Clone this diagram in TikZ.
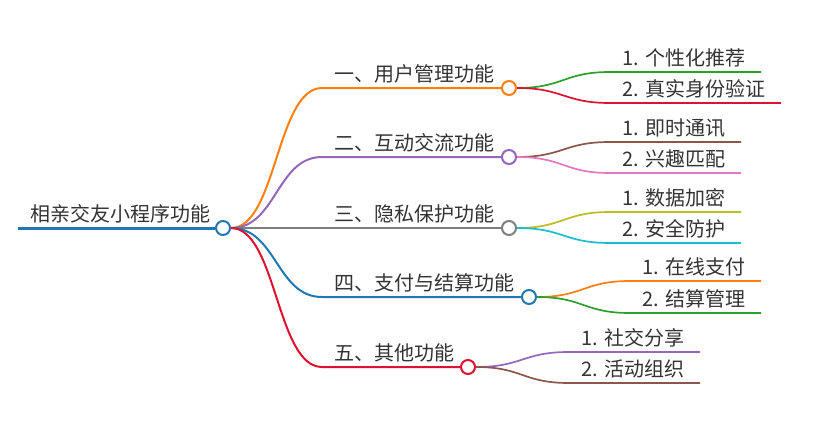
\documentclass[tikz,border=0pt]{standalone}
\usepackage{fontspec}
\setmainfont{Noto Sans CJK SC}
\usetikzlibrary{calc}

\definecolor{textgray}{HTML}{333333}
\definecolor{cblue}{HTML}{1F77B4}
\definecolor{corange}{HTML}{FF7F0E}
\definecolor{cgreen}{HTML}{2CA02C}
\definecolor{cred}{HTML}{E0112F}
\definecolor{cpurple}{HTML}{9467BD}
\definecolor{cbrown}{HTML}{8C564B}
\definecolor{cpink}{HTML}{E377C2}
\definecolor{cgray}{HTML}{7F7F7F}
\definecolor{colive}{HTML}{BCBD22}
\definecolor{ccyan}{HTML}{17BECF}

\tikzset{
  branch/.style={to path={let \p1=(\tikztostart), \p2=(\tikztotarget) in
    .. controls ({(\x1+\x2)/2},\y1) and ({(\x1+\x2)/2},\y2) .. (\tikztotarget)}},
  topic/.style={anchor=south west, inner xsep=12.5pt, inner ysep=6.5pt,
    text depth=0pt, text=textgray, font=\fontsize{20}{24}\selectfont},
  dot/.style={circle, fill=white, line width=2pt, minimum size=14pt, inner sep=0pt},
  mainline/.style={line width=2pt},
  leafline/.style={line width=1.7pt}
}

\begin{document}
\begin{tikzpicture}[x=1pt, y=-1pt]
    \useasboundingbox (0,0) rectangle (829,434);

    % Root topic
    \node[topic] (root) at (18,228) {相亲交友小程序功能};
    \node[dot, draw=cblue] (rc) at (223,228) {};
    \draw[cblue, line width=3pt] (root.south west) -- (rc.west);

    % Main topics
    \node[topic] (t1) at (322,88) {一、用户管理功能};
    \node[dot, draw=corange] (c1) at (509,88) {};
    \node[topic] (t2) at (322,157) {二、互动交流功能};
    \node[dot, draw=cpurple] (c2) at (509,157) {};
    \node[topic] (t3) at (322,228) {三、隐私保护功能};
    \node[dot, draw=cgray] (c3) at (509,228) {};
    \node[topic] (t4) at (322,297) {四、支付与结算功能};
    \node[dot, draw=cblue] (c4) at (529,297) {};
    \node[topic] (t5) at (322,367) {五、其他功能};
    \node[dot, draw=cred] (c5) at (468,367) {};

    \draw[corange, mainline] (rc.east) to[branch] (t1.south west) -- (c1.west);
    \draw[cpurple, mainline] (rc.east) to[branch] (t2.south west) -- (c2.west);
    \draw[cgray, mainline] (rc.east) to[branch] (t3.south west) -- (c3.west);
    \draw[cblue, mainline] (rc.east) to[branch] (t4.south west) -- (c4.west);
    \draw[cred, mainline] (rc.east) to[branch] (t5.south west) -- (c5.west);

    % Leaves of topic 1
    \node[topic] (l11) at (610,72) {1. 个性化推荐};
    \node[topic] (l12) at (610,103) {2. 真实身份验证};
    \draw[cgreen, leafline] (c1.east) to[branch] (l11.south west) -- ([xshift=3pt]l11.south east);
    \draw[cred, leafline] (c1.east) to[branch] (l12.south west) -- ([xshift=3pt]l12.south east);

    % Leaves of topic 2
    \node[topic] (l21) at (610,142) {1. 即时通讯};
    \node[topic] (l22) at (610,173) {2. 兴趣匹配};
    \draw[cbrown, leafline] (c2.east) to[branch] (l21.south west) -- ([xshift=3pt]l21.south east);
    \draw[cpink, leafline] (c2.east) to[branch] (l22.south west) -- ([xshift=3pt]l22.south east);

    % Leaves of topic 3
    \node[topic] (l31) at (610,212) {1. 数据加密};
    \node[topic] (l32) at (610,243) {2. 安全防护};
    \draw[colive, leafline] (c3.east) to[branch] (l31.south west) -- ([xshift=3pt]l31.south east);
    \draw[ccyan, leafline] (c3.east) to[branch] (l32.south west) -- ([xshift=3pt]l32.south east);

    % Leaves of topic 4
    \node[topic] (l41) at (630,281) {1. 在线支付};
    \node[topic] (l42) at (630,313) {2. 结算管理};
    \draw[corange, leafline] (c4.east) to[branch] (l41.south west) -- ([xshift=3pt]l41.south east);
    \draw[cgreen, leafline] (c4.east) to[branch] (l42.south west) -- ([xshift=3pt]l42.south east);

    % Leaves of topic 5
    \node[topic] (l51) at (569,352) {1. 社交分享};
    \node[topic] (l52) at (569,383) {2. 活动组织};
    \draw[cpurple, leafline] (c5.east) to[branch] (l51.south west) -- ([xshift=3pt]l51.south east);
    \draw[cbrown, leafline] (c5.east) to[branch] (l52.south west) -- ([xshift=3pt]l52.south east);
\end{tikzpicture}
\end{document}
